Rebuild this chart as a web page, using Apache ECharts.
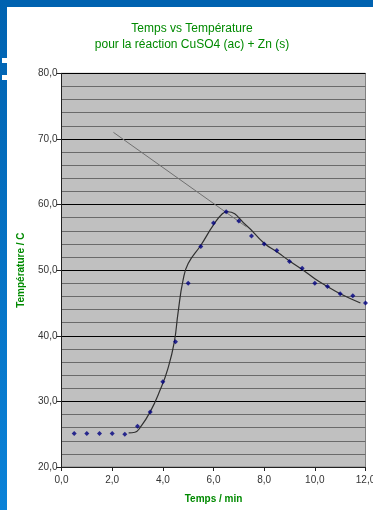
<!DOCTYPE html>
<html><head><meta charset="utf-8">
<script src="https://cdn.jsdelivr.net/npm/echarts@6/dist/echarts.min.js"></script>
<style>html,body{margin:0;padding:0;background:#fff;}#c{width:373px;height:510px;}</style>
</head><body><div id="c"></div>
<script>
// Measured points (time in min, temperature in °C)
var times = [0.5,1.0,1.5,2.0,2.5,3.0,3.5,4.0,4.5,5.0,5.5,6.0,6.5,7.0,7.5,8.0,8.5,9.0,9.5,10.0,10.5,11.0,11.5,12.0];
var temps = [25.1,25.1,25.1,25.1,25.0,26.2,28.4,33.0,39.1,48.0,53.6,57.2,58.9,57.5,55.2,54.0,53.0,51.3,50.3,48.0,47.5,46.4,46.1,45.0];
// Smoothed curve drawn in the chart
var curveT = [2.65,2.9,3.1,3.5,3.9,4.2,4.45,4.6,4.8,5.0,5.5,6.0,6.35,6.55,7.3,8.0,8.5,9.0,9.5,10.0,10.5,11.0,11.8];
var curveV = [25.2,25.3,26.0,28.4,31.8,35.0,39.0,43.5,48.5,51.0,53.8,56.9,58.6,58.9,56.8,54.1,52.8,51.4,50.1,48.7,47.5,46.4,45.0];
// Extrapolated cooling line
var lineT = [2.05, 7.3];
var lineV = [71.0, 56.6];
// Axis ticks
var xMin = 0, xMax = 12, xStep = 2;
var yMin = 20, yMax = 80, yStep = 10, yMinor = 2;

function pairs(a,b){return a.map(function(v,i){return [v,b[i]];});}
function fmt(v){return v.toFixed(1).replace('.',',');}

var chart = echarts.init(document.getElementById('c'));
var gridL = 61.5, gridR = 7.5, gridT = 73.3, gridB = 43;
var F = 'Arial, "Liberation Sans", sans-serif';
chart.setOption({
  animation:false,
  backgroundColor:'#fff',
  title:{
    text:'Temps vs Température\npour la réaction CuSO4 (ac) + Zn (s)',
    left:187, top:16, textAlign:'center',
    textStyle:{color:'#008a00', fontSize:12, fontWeight:'normal', fontFamily:F, lineHeight:16}
  },
  grid:{left:gridL,right:gridR,top:gridT,bottom:gridB,show:true,backgroundColor:'#c0c0c0',borderColor:'#808080',borderWidth:1,outerBoundsMode:'none',containLabel:false},
  xAxis:[{
    type:'value', min:xMin, max:xMax, interval:xStep,
    name:'Temps / min', nameLocation:'middle', nameGap:27,
    nameTextStyle:{color:'#008a00',fontWeight:'bold',fontSize:10,fontFamily:F},
    axisLine:{show:true,onZero:false,lineStyle:{color:'#222',width:1}},
    axisTick:{show:true,length:4,lineStyle:{color:'#222'}},
    axisLabel:{color:'#333',fontSize:10,fontFamily:F,margin:8,formatter:fmt,showMaxLabel:true},
    splitLine:{show:false}
  }],
  yAxis:[{
    type:'value', min:yMin, max:yMax, interval:yStep,
    name:'Température / C', nameLocation:'middle', nameGap:35, nameRotate:90,
    nameTextStyle:{color:'#008a00',fontWeight:'bold',fontSize:10,fontFamily:F},
    axisLine:{show:true,lineStyle:{color:'#222',width:1}},
    axisTick:{show:true,length:5,lineStyle:{color:'#222'}},
    axisLabel:{color:'#333',fontSize:10,fontFamily:F,margin:4,formatter:fmt},
    minorTick:{show:false,splitNumber:yStep/yMinor},
    minorSplitLine:{show:true,lineStyle:{color:'#6a6a6a',width:1}},
    splitLine:{show:true,lineStyle:{color:'#000',width:1}}
  }],
  series:[
    {type:'line', data:pairs(lineT,lineV), symbol:'none', lineStyle:{color:'#707070',width:1}, z:2},
    {type:'line', data:pairs(curveT,curveV), smooth:0.5, symbol:'none', lineStyle:{color:'#303030',width:1.2}, z:3},
    {type:'scatter', data:pairs(times,temps), symbol:'diamond', symbolSize:5, itemStyle:{color:'#000080'}, z:4}
  ],
  graphic:[
    {type:'rect', shape:{x:0,y:0,width:373,height:7}, style:{fill:'#0062b0'}, z:100},
    {type:'rect', shape:{x:0,y:0,width:7,height:510}, style:{fill:new echarts.graphic.LinearGradient(0,0,0,1,[{offset:0,color:'#0062b0'},{offset:1,color:'#0a82d8'}])}, z:100},
    {type:'rect', shape:{x:2,y:58,width:5,height:5}, style:{fill:'#fff'}, z:101},
    {type:'rect', shape:{x:2,y:75,width:5,height:5}, style:{fill:'#fff'}, z:101}
  ]
});
</script></body></html>
